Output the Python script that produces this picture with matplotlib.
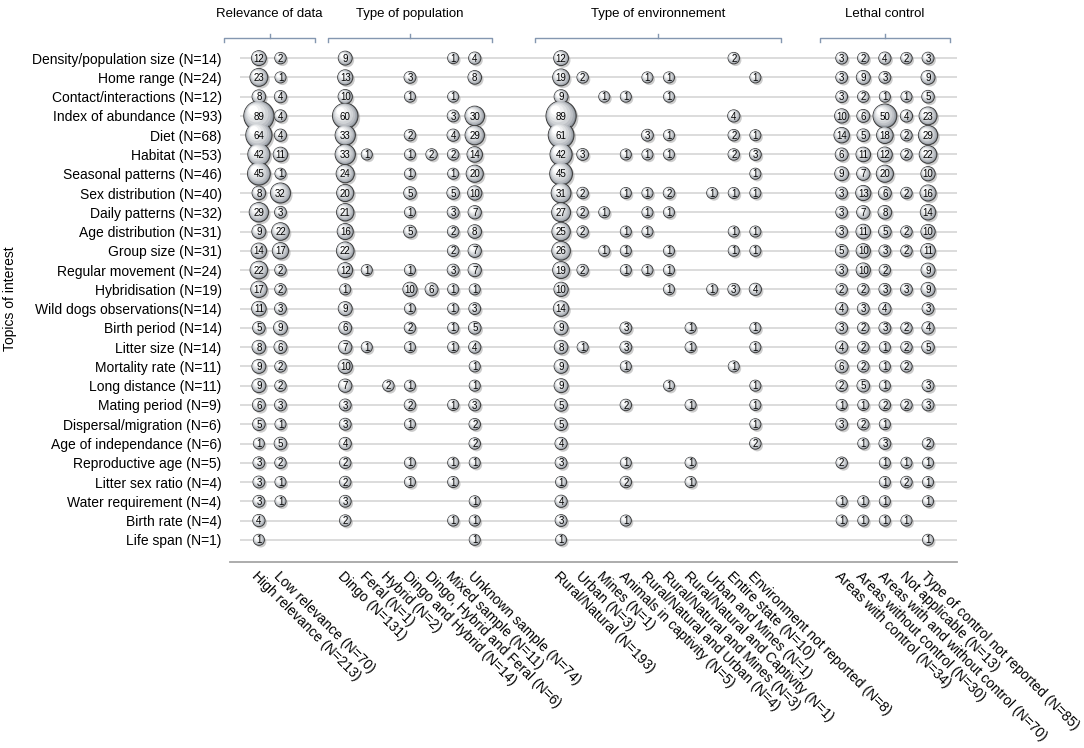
import numpy as np
import matplotlib
matplotlib.use('Agg')
import matplotlib.pyplot as plt
from matplotlib.transforms import offset_copy
from matplotlib.colors import to_rgb

plt.rcParams['font.family'] = ['Liberation Sans', 'DejaVu Sans']

# ---- data ----
topics = [
    'Density/population size (N=14)', 'Home range (N=24)', 'Contact/interactions (N=12)',
    'Index of abundance (N=93)', 'Diet (N=68)', 'Habitat (N=53)', 'Seasonal patterns (N=46)',
    'Sex distribution (N=40)', 'Daily patterns (N=32)', 'Age distribution (N=31)',
    'Group size (N=31)', 'Regular movement (N=24)', 'Hybridisation (N=19)',
    'Wild dogs observations(N=14)', 'Birth period (N=14)', 'Litter size (N=14)',
    'Mortality rate (N=11)', 'Long distance (N=11)', 'Mating period (N=9)',
    'Dispersal/migration (N=6)', 'Age of independance (N=6)', 'Reproductive age (N=5)',
    'Litter sex ratio (N=4)', 'Water requirement (N=4)', 'Birth rate (N=4)', 'Life span (N=1)',
]

group_titles = ['Relevance of data', 'Type of population', 'Type of environnement', 'Lethal control']

relevance_labels = ['High relevance (N=213)', 'Low relevance (N=70)']
population_labels = ['Dingo (N=131)', 'Feral (N=1)', 'Hybrid (N=2)', 'Dingo and Hybrid (N=14)',
                     'Dingo, Hybrid and Feral (N=6)', 'Mixed sample (N=11)', 'Unknown sample (N=74)']
environment_labels = ['Rural/Natural (N=193)', 'Urban (N=3)', 'Mines (N=1)',
                      'Animals in captivity (N=5)', 'Rural/Natural and Urban (N=4)',
                      'Rural/Natural and Mines (N=3)', 'Rural/Natural and Captivity (N=1)',
                      'Urban and Mines (N=1)', 'Entire state (N=10)',
                      'Environment not reported (N=8)']
lethal_labels = ['Areas with control (N=34)', 'Areas without control (N=30)',
                 'Areas with and without control (N=70)', 'Not applicable (N=13)',
                 'Type of control not reported (N=85)']

# 0 = no bubble
relevance = [
    [12, 2], [23, 1], [8, 4], [89, 4], [64, 4], [42, 11], [45, 1], [8, 32], [29, 3],
    [9, 22], [14, 17], [22, 2], [17, 2], [11, 3], [5, 9], [8, 6], [9, 2], [9, 2],
    [6, 3], [5, 1], [1, 5], [3, 2], [3, 1], [3, 1], [4, 0], [1, 0],
]

population = [
    [9, 0, 0, 0, 0, 1, 4],
    [13, 0, 0, 3, 0, 0, 8],
    [10, 0, 0, 1, 0, 1, 0],
    [60, 0, 0, 0, 0, 3, 30],
    [33, 0, 0, 2, 0, 4, 29],
    [33, 1, 0, 1, 2, 2, 14],
    [24, 0, 0, 1, 0, 1, 20],
    [20, 0, 0, 5, 0, 5, 10],
    [21, 0, 0, 1, 0, 3, 7],
    [16, 0, 0, 5, 0, 2, 8],
    [22, 0, 0, 0, 0, 2, 7],
    [12, 1, 0, 1, 0, 3, 7],
    [1, 0, 0, 10, 6, 1, 1],
    [9, 0, 0, 1, 0, 1, 3],
    [6, 0, 0, 2, 0, 1, 5],
    [7, 1, 0, 1, 0, 1, 4],
    [10, 0, 0, 0, 0, 0, 1],
    [7, 0, 2, 1, 0, 0, 1],
    [3, 0, 0, 2, 0, 1, 3],
    [3, 0, 0, 1, 0, 0, 2],
    [4, 0, 0, 0, 0, 0, 2],
    [2, 0, 0, 1, 0, 1, 1],
    [2, 0, 0, 1, 0, 1, 0],
    [3, 0, 0, 0, 0, 0, 1],
    [2, 0, 0, 0, 0, 1, 1],
    [0, 0, 0, 0, 0, 0, 1],
]

environment = [
    [12, 0, 0, 0, 0, 0, 0, 0, 2, 0],
    [19, 2, 0, 0, 1, 1, 0, 0, 0, 1],
    [9, 0, 1, 1, 0, 1, 0, 0, 0, 0],
    [89, 0, 0, 0, 0, 0, 0, 0, 4, 0],
    [61, 0, 0, 0, 3, 1, 0, 0, 2, 1],
    [42, 3, 0, 1, 1, 1, 0, 0, 2, 3],
    [45, 0, 0, 0, 0, 0, 0, 0, 0, 1],
    [31, 2, 0, 1, 1, 2, 0, 1, 1, 1],
    [27, 2, 1, 0, 1, 1, 0, 0, 0, 0],
    [25, 2, 0, 1, 1, 0, 0, 0, 1, 1],
    [26, 0, 1, 1, 0, 1, 0, 0, 1, 1],
    [19, 2, 0, 1, 1, 1, 0, 0, 0, 0],
    [10, 0, 0, 0, 0, 1, 0, 1, 3, 4],
    [14, 0, 0, 0, 0, 0, 0, 0, 0, 0],
    [9, 0, 0, 3, 0, 0, 1, 0, 0, 1],
    [8, 1, 0, 3, 0, 0, 1, 0, 0, 1],
    [9, 0, 0, 1, 0, 0, 0, 0, 1, 0],
    [9, 0, 0, 0, 0, 1, 0, 0, 0, 1],
    [5, 0, 0, 2, 0, 0, 1, 0, 0, 1],
    [5, 0, 0, 0, 0, 0, 0, 0, 0, 1],
    [4, 0, 0, 0, 0, 0, 0, 0, 0, 2],
    [3, 0, 0, 1, 0, 0, 1, 0, 0, 0],
    [1, 0, 0, 2, 0, 0, 1, 0, 0, 0],
    [4, 0, 0, 0, 0, 0, 0, 0, 0, 0],
    [3, 0, 0, 1, 0, 0, 0, 0, 0, 0],
    [1, 0, 0, 0, 0, 0, 0, 0, 0, 0],
]

lethal = [
    [3, 2, 4, 2, 3],
    [3, 9, 3, 0, 9],
    [3, 2, 1, 1, 5],
    [10, 6, 50, 4, 23],
    [14, 5, 18, 2, 29],
    [6, 11, 12, 2, 22],
    [9, 7, 20, 0, 10],
    [3, 13, 6, 2, 16],
    [3, 7, 8, 0, 14],
    [3, 11, 5, 2, 10],
    [5, 10, 3, 2, 11],
    [3, 10, 2, 0, 9],
    [2, 2, 3, 3, 9],
    [4, 3, 4, 0, 3],
    [3, 2, 3, 2, 4],
    [4, 2, 1, 2, 5],
    [6, 2, 1, 2, 0],
    [2, 5, 1, 0, 3],
    [1, 1, 2, 2, 3],
    [3, 2, 1, 0, 0],
    [0, 1, 3, 0, 2],
    [2, 0, 1, 1, 1],
    [0, 0, 1, 2, 1],
    [1, 1, 1, 0, 1],
    [1, 1, 1, 1, 0],
    [0, 0, 0, 0, 1],
]

groups = [relevance, population, environment, lethal]
group_labels = [relevance_labels, population_labels, environment_labels, lethal_labels]
group_start = [0, 4, 14, 27]           # column index of first bubble in each group
bracket_pad = [1.6, 0.8, 1.2, 1.0]     # extra half-width of the brackets


def bubble_size(v):
    """marker area (pt^2) for a count"""
    return 0.5184 * (110 + 9.0 * np.asarray(v, dtype=float))


fig = plt.figure(figsize=(10.84, 7.48), dpi=100)
ax = fig.add_axes([230 / 1084, 1 - 562 / 748, 727 / 1084, 526 / 748])
ax.set_xlim(-1.34, 32.34)
ax.set_ylim(26.15, -1.15)

n_rows = len(topics)
rows = np.arange(n_rows)

# grid lines
ax.hlines(rows, -0.88, 32.34, color='#d9d9d9', lw=1.3, zorder=0)

for s in ['top', 'right', 'left']:
    ax.spines[s].set_visible(False)
ax.spines['bottom'].set_color('#a6a6a6')
ax.spines['bottom'].set_linewidth(1.3)

ax.set_yticks(rows)
ax.set_yticklabels(topics, fontsize=10)
ax.tick_params(axis='y', length=0, pad=6)
ax.set_xticks([])

# collect bubbles
xs, ys, vs = [], [], []
for g, mat in enumerate(groups):
    for r in range(n_rows):
        for j, v in enumerate(mat[r]):
            if v > 0:
                xs.append(group_start[g] + j)
                ys.append(r)
                vs.append(v)
xs = np.array(xs, dtype=float)
ys = np.array(ys, dtype=float)
vs = np.array(vs)
sizes = bubble_size(vs)

# px per data unit, for moving the highlight towards the upper left
p0 = ax.transData.transform((0, 0))
p1 = ax.transData.transform((1, 1))
sx, sy = p1[0] - p0[0], p1[1] - p0[1]
r_px = np.sqrt(sizes) / 2 / 72 * 100

# drop shadow
shadow = offset_copy(ax.transData, fig=fig, x=1.3, y=-1.5, units='points')
ax.scatter(xs, ys, s=sizes * 1.05, color='#808080', alpha=0.4, lw=0,
           transform=shadow, zorder=2)

# shaded sphere made of stacked circles
outer = np.array(to_rgb('#858c95'))
inner = np.array(to_rgb('#ffffff'))
fracs = [1.0, 0.94, 0.86, 0.76, 0.63, 0.48, 0.32]
for k, f in enumerate(fracs):
    t = (k / (len(fracs) - 1)) ** 0.7
    col = outer + (inner - outer) * t
    shift = (1 - f) * r_px * 0.55
    ax.scatter(xs - shift / sx, ys + shift / sy, s=sizes * f * f, color=col,
               edgecolors='#404040' if k == 0 else 'none', linewidths=0.8 if k == 0 else 0,
               zorder=3 + k)

for x, y, v in zip(xs, ys, vs):
    ax.text(x, y + 0.03, str(v), ha='center', va='center', fontsize=7,
            color='black', zorder=20)

# rotated column labels under the axis
lab_trans = offset_copy(ax.get_xaxis_transform(), fig=fig, x=-5 * 0.72, y=-12 * 0.72,
                        units='points')
for g, labels in enumerate(group_labels):
    for j, lab in enumerate(labels):
        ax.text(group_start[g] + j, 0, lab, rotation=-45, rotation_mode='anchor',
                ha='left', va='center', fontsize=10, transform=lab_trans)

# group titles with brackets on top
br_col = '#8497b0'
for g, title in enumerate(group_titles):
    n = len(group_labels[g])
    c = group_start[g] + (n - 1) / 2
    hw = (n - 1) / 2 + bracket_pad[g]
    ax.plot([c - hw, c - hw, c + hw, c + hw], [-0.84, -1.05, -1.05, -0.84],
            color=br_col, lw=1, clip_on=False)
    ax.plot([c, c], [-1.05, -1.25], color=br_col, lw=1, clip_on=False)
    ax.text(c, -2.3, title, ha='center', va='center', fontsize=9.5, clip_on=False)

fig.text(10 / 1084, 1 - 299 / 748, 'Topics of interest', rotation=90,
         ha='center', va='center', fontsize=10)

fig.savefig('out.png', dpi=100)
plt.close(fig)
